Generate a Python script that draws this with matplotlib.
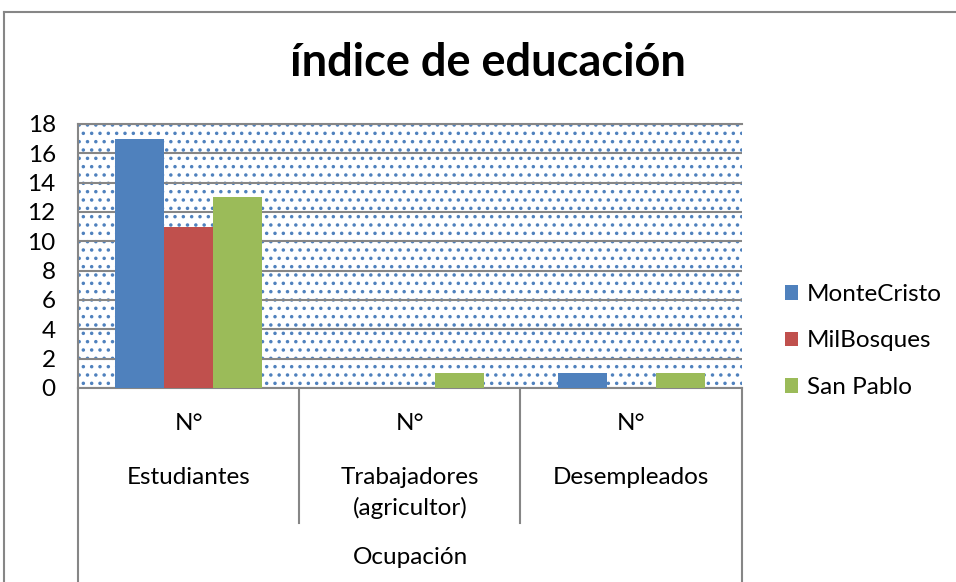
import numpy as np
import matplotlib.pyplot as plt
from matplotlib.patches import Rectangle
from matplotlib.lines import Line2D

plt.rcParams['font.family'] = ['Lato', 'DejaVu Sans']
plt.rcParams['hatch.linewidth'] = 1.3

categories = ['Estudiantes', 'Trabajadores\n(agricultor)', 'Desempleados']
sub_label = 'N°'
series_names = ['MonteCristo', 'MilBosques', 'San Pablo']
montecristo = [17, 0, 1]
milbosques = [11, 0, 0]
san_pablo = [13, 1, 1]
group_label = 'Ocupación'
colors = ['#4F81BD', '#C0504D', '#9BBB59']
grid_color = '#868686'

W, H = 956, 582
fig = plt.figure(figsize=(W / 100, H / 100), dpi=100)


def fx(px):
    return px / W


def fy(py):
    return (H - py) / H


# plot area in pixels: left 78, right 742, top 124, bottom 388
ax = fig.add_axes([fx(78), fy(388), (742 - 78) / W, (388 - 124) / H])

# dotted background
ax.add_patch(Rectangle((0, 0), 1, 1, transform=ax.transAxes, facecolor='white',
                       hatch='..', edgecolor='#4F81BD', lw=0, zorder=0))

x = np.arange(len(categories))
w = 2 / 9
for i, (vals, name) in enumerate(zip([montecristo, milbosques, san_pablo], series_names)):
    ax.bar(x + (i - 1) * w, vals, width=w, color=colors[i], label=name, zorder=3)

ax.set_ylim(0, 18)
ax.set_xlim(-0.5, 2.5)
ax.set_yticks(range(0, 19, 2))
ax.yaxis.grid(True, color=grid_color, lw=1.5, zorder=2)
ax.tick_params(axis='y', length=0, labelsize=17.5, pad=16)
ax.set_xticks([])
for s in ax.spines.values():
    s.set_color(grid_color)
    s.set_linewidth(1.5)
ax.spines['right'].set_visible(False)

# category axis: separators and labels
for px in [299, 520]:
    fig.add_artist(Line2D([fx(px)] * 2, [fy(388), fy(523)], color=grid_color, lw=1.5))
for px in [78, 742]:
    fig.add_artist(Line2D([fx(px)] * 2, [fy(388), fy(582)], color=grid_color, lw=1.5))

trans = ax.get_xaxis_transform()
ax_h = (388 - 124) / H
for xi, lab in zip(x, categories):
    ax.text(xi, (fy(423) - fy(388)) / ax_h, sub_label, transform=trans,
            ha='center', va='center', fontsize=17.5)
    for j, line in enumerate(lab.split('\n')):
        yy = (fy(477 + 31 * j) - fy(388)) / ax_h
        ax.text(xi, yy, line, transform=trans, ha='center', va='center', fontsize=17.5)
fig.text(0.5 * (fx(78) + fx(742)), fy(558), group_label, ha='center', va='center',
         fontsize=17.5)

# outer chart frame
fig.add_artist(Line2D([fx(4), fx(956)], [fy(12), fy(12)], color=grid_color, lw=1.5))
fig.add_artist(Line2D([fx(4), fx(4)], [fy(12), fy(582)], color=grid_color, lw=1.5))

fig.text(fx(488), fy(63), 'índice de educación', ha='center', va='center',
         fontsize=32.5, fontweight='bold')

ax.legend(loc='center left', bbox_to_anchor=(fx(763), fy(341)), bbox_transform=fig.transFigure,
          frameon=False, fontsize=17.5, handlelength=0.55, handleheight=0.55,
          handletextpad=0.35, labelspacing=1.05)

fig.savefig('out.png', dpi=100)
